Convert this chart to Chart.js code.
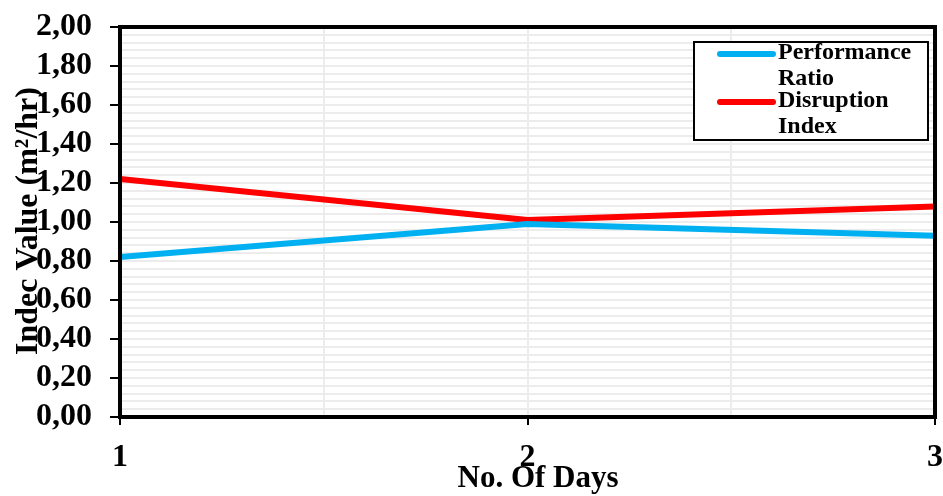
<!DOCTYPE html>
<html>
<head>
<meta charset="utf-8">
<script src="https://cdn.jsdelivr.net/npm/chart.js@4/dist/chart.umd.min.js"></script>
<style>
  body { margin: 0; background: #fff; }
  #wrap { width: 943px; height: 496px; }
</style>
</head>
<body>
<div id="wrap"><canvas id="trendChart" width="943" height="496"></canvas></div>
<script>
// values
const days = [1, 2, 3];
const performanceRatio = [0.82, 0.99, 0.93];
const disruptionIndex = [1.22, 1.01, 1.08];

const xTickLabels = ["1", "2", "3"];
const yTickLabels = ["0,00", "0,20", "0,40", "0,60", "0,80", "1,00", "1,20", "1,40", "1,60", "1,80", "2,00"];

const yTitle = "Indec Value (m\u00B2/hr)";
const xTitle = "No. Of Days";

const FONT = '"Liberation Serif", "Times New Roman", serif';

function toPoints(vals) {
    return days.map((d, i) => ({ x: d, y: vals[i] }));
}

function isMajorY(v) {
    const i = Math.round(v / 0.2);
    return Math.abs(v - i * 0.2) < 1e-6;
}

// keep label overhang from pushing the plot area in
function noPadding(s) {
    s.paddingLeft = 0;
    s.paddingRight = 0;
    s.paddingTop = 0;
    s.paddingBottom = 0;
}

// frame, axis titles and legend box
const decorations = {
    id: "decorations",
    afterDatasetsDraw(chart) {
        const ctx = chart.ctx;
        const a = chart.chartArea;
        ctx.save();
        ctx.strokeStyle = "#000";
        ctx.lineWidth = 4;
        ctx.strokeRect(a.left, a.top, a.right - a.left, a.bottom - a.top);

        ctx.fillStyle = "#000";
        ctx.font = "bold 31px " + FONT;
        ctx.textAlign = "center";
        ctx.textBaseline = "alphabetic";
        ctx.fillText(xTitle, 538, 487);

        ctx.save();
        ctx.translate(37, 221);
        ctx.rotate(-Math.PI / 2);
        ctx.font = "bold 32px " + FONT;
        ctx.fillText(yTitle, 0, 0);
        ctx.restore();

        // legend
        ctx.fillStyle = "#fff";
        ctx.fillRect(694, 42, 234, 98);
        ctx.lineWidth = 2;
        ctx.strokeStyle = "#000";
        ctx.strokeRect(694, 42, 234, 98);
        ctx.font = "bold 24px " + FONT;
        ctx.textAlign = "left";
        chart.data.datasets.forEach((ds, k) => {
            const y0 = 54 + k * 48;
            ctx.strokeStyle = ds.borderColor;
            ctx.lineWidth = 6;
            ctx.lineCap = "round";
            ctx.beginPath();
            ctx.moveTo(720, y0);
            ctx.lineTo(773, y0);
            ctx.stroke();
            ctx.fillStyle = "#000";
            ds.label.split(" ").forEach((w, j) => {
                ctx.fillText(w, 778, y0 + 5 + j * 26);
            });
        });
        ctx.restore();
    }
};

const ctx = document.getElementById("trendChart").getContext("2d");
new Chart(ctx, {
    type: "line",
    data: {
        datasets: [{
            label: "Performance Ratio",
            data: toPoints(performanceRatio),
            borderColor: "#00B0F0",
            borderWidth: 6,
            pointRadius: 0,
            tension: 0,
            fill: false
        }, {
            label: "Disruption Index",
            data: toPoints(disruptionIndex),
            borderColor: "#FF0000",
            borderWidth: 6,
            pointRadius: 0,
            tension: 0,
            fill: false
        }]
    },
    plugins: [decorations],
    options: {
        responsive: false,
        animation: false,
        layout: { padding: { left: 0, right: 8, top: 27, bottom: 0 } },
        plugins: {
            legend: { display: false },
            tooltip: { enabled: false }
        },
        scales: {
            x: {
                type: "linear",
                min: 1,
                max: 3,
                afterFit: s => { s.height = 79; noPadding(s); },
                ticks: {
                    stepSize: 0.5,
                    autoSkip: false,
                    maxTicksLimit: 100,
                    maxRotation: 0,
                    padding: 14,
                    color: "#000",
                    font: { family: FONT, size: 32, weight: "bold" },
                    callback: v => Number.isInteger(v) ? xTickLabels[v - 1] : ""
                },
                grid: {
                    color: "#ececec",
                    lineWidth: 2,
                    tickLength: 8,
                    tickWidth: 2,
                    tickColor: c => (c.tick && Number.isInteger(c.tick.value)) ? "#000" : "rgba(0,0,0,0)"
                },
                border: { color: "#000", width: 4 }
            },
            y: {
                min: 0,
                max: 2,
                afterFit: s => { s.width = 120; noPadding(s); },
                ticks: {
                    stepSize: 0.04,
                    autoSkip: false,
                    maxTicksLimit: 100,
                    padding: 18,
                    color: "#000",
                    font: { family: FONT, size: 32, weight: "bold" },
                    callback: v => isMajorY(v) ? yTickLabels[Math.round(v / 0.2)] : ""
                },
                grid: {
                    color: "#ececec",
                    lineWidth: 2,
                    tickLength: 10,
                    tickWidth: 2,
                    tickColor: c => (c.tick && isMajorY(c.tick.value)) ? "#000" : "rgba(0,0,0,0)"
                },
                border: { color: "#000", width: 4 }
            }
        }
    }
});
</script>
</body>
</html>
